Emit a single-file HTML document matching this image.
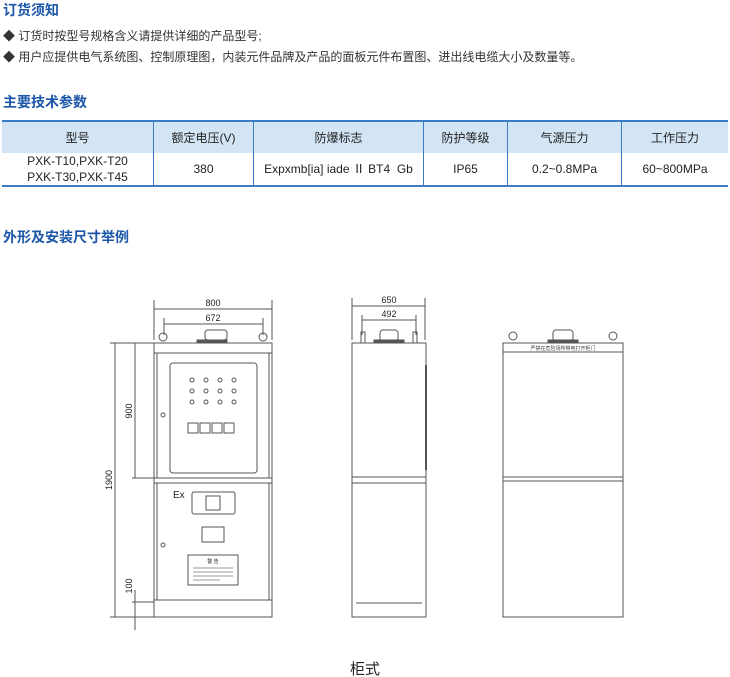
<!DOCTYPE html>
<html><head><meta charset="utf-8"><style>
body{margin:0;width:730px;height:677px;background:#fff;font-family:"Liberation Sans","Noto Sans CJK SC",sans-serif;position:relative;overflow:hidden;color:#222}
.h{position:absolute;left:3px;color:#1b56a8;font-size:14px;font-weight:bold}
.p{position:absolute;left:3px;font-size:12px;color:#333}
table{position:absolute;left:2px;top:120px;width:726px;border-collapse:collapse;font-size:12px;text-align:center;color:#222}
th{background:#d3e4f4;font-weight:normal;height:31px;padding:0;border-top:2px solid #3c7cc4;border-left:1px solid #3c7cc4}
td{height:32px;padding:0;line-height:16px;border-left:1px solid #3c7cc4;border-bottom:2px solid #3c7cc4}
th:first-child,td:first-child{border-left:none}
</style></head><body>
<div class="h" style="top:0">订货须知</div>
<div class="p" style="top:27px">◆ 订货时按型号规格含义请提供详细的产品型号;</div>
<div class="p" style="top:48px">◆ 用户应提供电气系统图、控制原理图，内装元件品牌及产品的面板元件布置图、进出线电缆大小及数量等。</div>
<div class="h" style="top:92px">主要技术参数</div>
<table>
<tr><th style="width:151px">型号</th><th style="width:99px">额定电压(V)</th><th style="width:169px">防爆标志</th><th style="width:83px">防护等级</th><th style="width:113px">气源压力</th><th>工作压力</th></tr>
<tr><td>PXK-T10,PXK-T20<br>PXK-T30,PXK-T45</td><td>380</td><td>Expxmb[ia] iade Ⅱ BT4&nbsp; Gb</td><td>IP65</td><td>0.2~0.8MPa</td><td>60~800MPa</td></tr>
</table>
<div class="h" style="top:227px">外形及安装尺寸举例</div>
<svg width="730" height="677" style="position:absolute;left:0;top:0" font-family="Liberation Sans" font-size="9" fill="none" stroke="#555" stroke-width="1">
<g>
<line x1="154" y1="300" x2="154" y2="340"/><line x1="272" y1="300" x2="272" y2="340"/>
<line x1="154" y1="309" x2="272" y2="309"/>
<line x1="164" y1="318" x2="164" y2="335"/><line x1="263" y1="318" x2="263" y2="335"/>
<line x1="164" y1="324" x2="263" y2="324"/>
<text x="213" y="306" fill="#222" stroke="none" text-anchor="middle">800</text>
<text x="213" y="321" fill="#222" stroke="none" text-anchor="middle">672</text>
<circle cx="163" cy="337" r="4"/><circle cx="263" cy="337" r="4"/>
<rect x="205" y="330" width="22" height="10" rx="3"/><rect x="197" y="340" width="30" height="3" fill="#555"/>
<rect x="154" y="343" width="118" height="274"/>
<line x1="154" y1="353" x2="272" y2="353"/>
<rect x="157" y="353" width="112" height="125"/>
<rect x="170" y="363" width="87" height="110" rx="3"/>
<g fill="none">
<circle cx="192" cy="380" r="2"/><circle cx="206" cy="380" r="2"/><circle cx="220" cy="380" r="2"/><circle cx="234" cy="380" r="2"/>
<circle cx="192" cy="391" r="2"/><circle cx="206" cy="391" r="2"/><circle cx="220" cy="391" r="2"/><circle cx="234" cy="391" r="2"/>
<circle cx="192" cy="402" r="2"/><circle cx="206" cy="402" r="2"/><circle cx="220" cy="402" r="2"/><circle cx="234" cy="402" r="2"/>
<rect x="188" y="423" width="10" height="10"/><rect x="200" y="423" width="10" height="10"/><rect x="212" y="423" width="10" height="10"/><rect x="224" y="423" width="10" height="10"/>
</g>
<circle cx="163" cy="415" r="2"/>
<line x1="154" y1="478" x2="272" y2="478"/><line x1="154" y1="483" x2="272" y2="483"/>
<rect x="157" y="483" width="112" height="117"/>
<text x="173" y="498" fill="#222" stroke="none" font-size="10">Ex</text>
<rect x="192" y="492" width="43" height="22" rx="2"/><rect x="206" y="496" width="14" height="14"/>
<rect x="202" y="527" width="22" height="15"/>
<circle cx="163" cy="545" r="2"/>
<rect x="188" y="555" width="50" height="30"/>
<text x="213" y="563" fill="#222" stroke="none" font-size="5" text-anchor="middle">警 告</text>
<line x1="193" y1="568" x2="233" y2="568" stroke="#999"/><line x1="193" y1="572" x2="233" y2="572" stroke="#999"/><line x1="193" y1="576" x2="233" y2="576" stroke="#999"/><line x1="193" y1="580" x2="220" y2="580" stroke="#999"/>
<line x1="154" y1="600" x2="272" y2="600"/>
<line x1="110" y1="343" x2="154" y2="343"/><line x1="110" y1="617" x2="154" y2="617"/>
<line x1="115" y1="343" x2="115" y2="617"/>
<line x1="135" y1="343" x2="135" y2="478"/><line x1="132" y1="478" x2="154" y2="478"/>
<line x1="135" y1="590" x2="135" y2="630"/><line x1="132" y1="602" x2="154" y2="602"/>
<text transform="translate(112,480) rotate(-90)" fill="#222" stroke="none" text-anchor="middle">1900</text>
<text transform="translate(132,411) rotate(-90)" fill="#222" stroke="none" text-anchor="middle">900</text>
<text transform="translate(132,586) rotate(-90)" fill="#222" stroke="none" text-anchor="middle">100</text>
</g>
<g>
<line x1="352" y1="298" x2="352" y2="340"/><line x1="425" y1="298" x2="425" y2="340"/>
<line x1="352" y1="306" x2="425" y2="306"/>
<line x1="362" y1="315" x2="362" y2="335"/><line x1="416" y1="315" x2="416" y2="335"/>
<line x1="362" y1="320" x2="416" y2="320"/>
<text x="389" y="303" fill="#222" stroke="none" text-anchor="middle">650</text>
<text x="389" y="317" fill="#222" stroke="none" text-anchor="middle">492</text>
<rect x="361" y="332" width="4" height="11"/><rect x="413" y="332" width="4" height="11"/>
<rect x="380" y="330" width="18" height="11" rx="3"/><rect x="374" y="340" width="30" height="3" fill="#555"/>
<rect x="352" y="343" width="74" height="274"/>
<line x1="352" y1="477" x2="426" y2="477"/><line x1="352" y1="483" x2="426" y2="483"/>
<line x1="356" y1="603" x2="422" y2="603"/>
<line x1="426" y1="365" x2="426" y2="470" stroke-width="2"/>
</g>
<g>
<circle cx="513" cy="336" r="4"/><circle cx="613" cy="336" r="4"/>
<rect x="553" y="330" width="20" height="11" rx="3"/><rect x="548" y="340" width="30" height="3" fill="#555"/>
<rect x="503" y="343" width="120" height="274"/>
<line x1="503" y1="352" x2="623" y2="352"/>
<text x="563" y="350" fill="#444" stroke="none" font-size="5" text-anchor="middle" font-family="Noto Sans CJK SC">严禁在危险场所带电打开柜门</text>
<line x1="503" y1="477" x2="623" y2="477"/><line x1="503" y1="481" x2="623" y2="481"/>
</g>
<text x="365" y="674" fill="#222" stroke="none" font-size="15" text-anchor="middle" font-family="Noto Sans CJK SC">柜式</text>
</svg>
</body></html>
